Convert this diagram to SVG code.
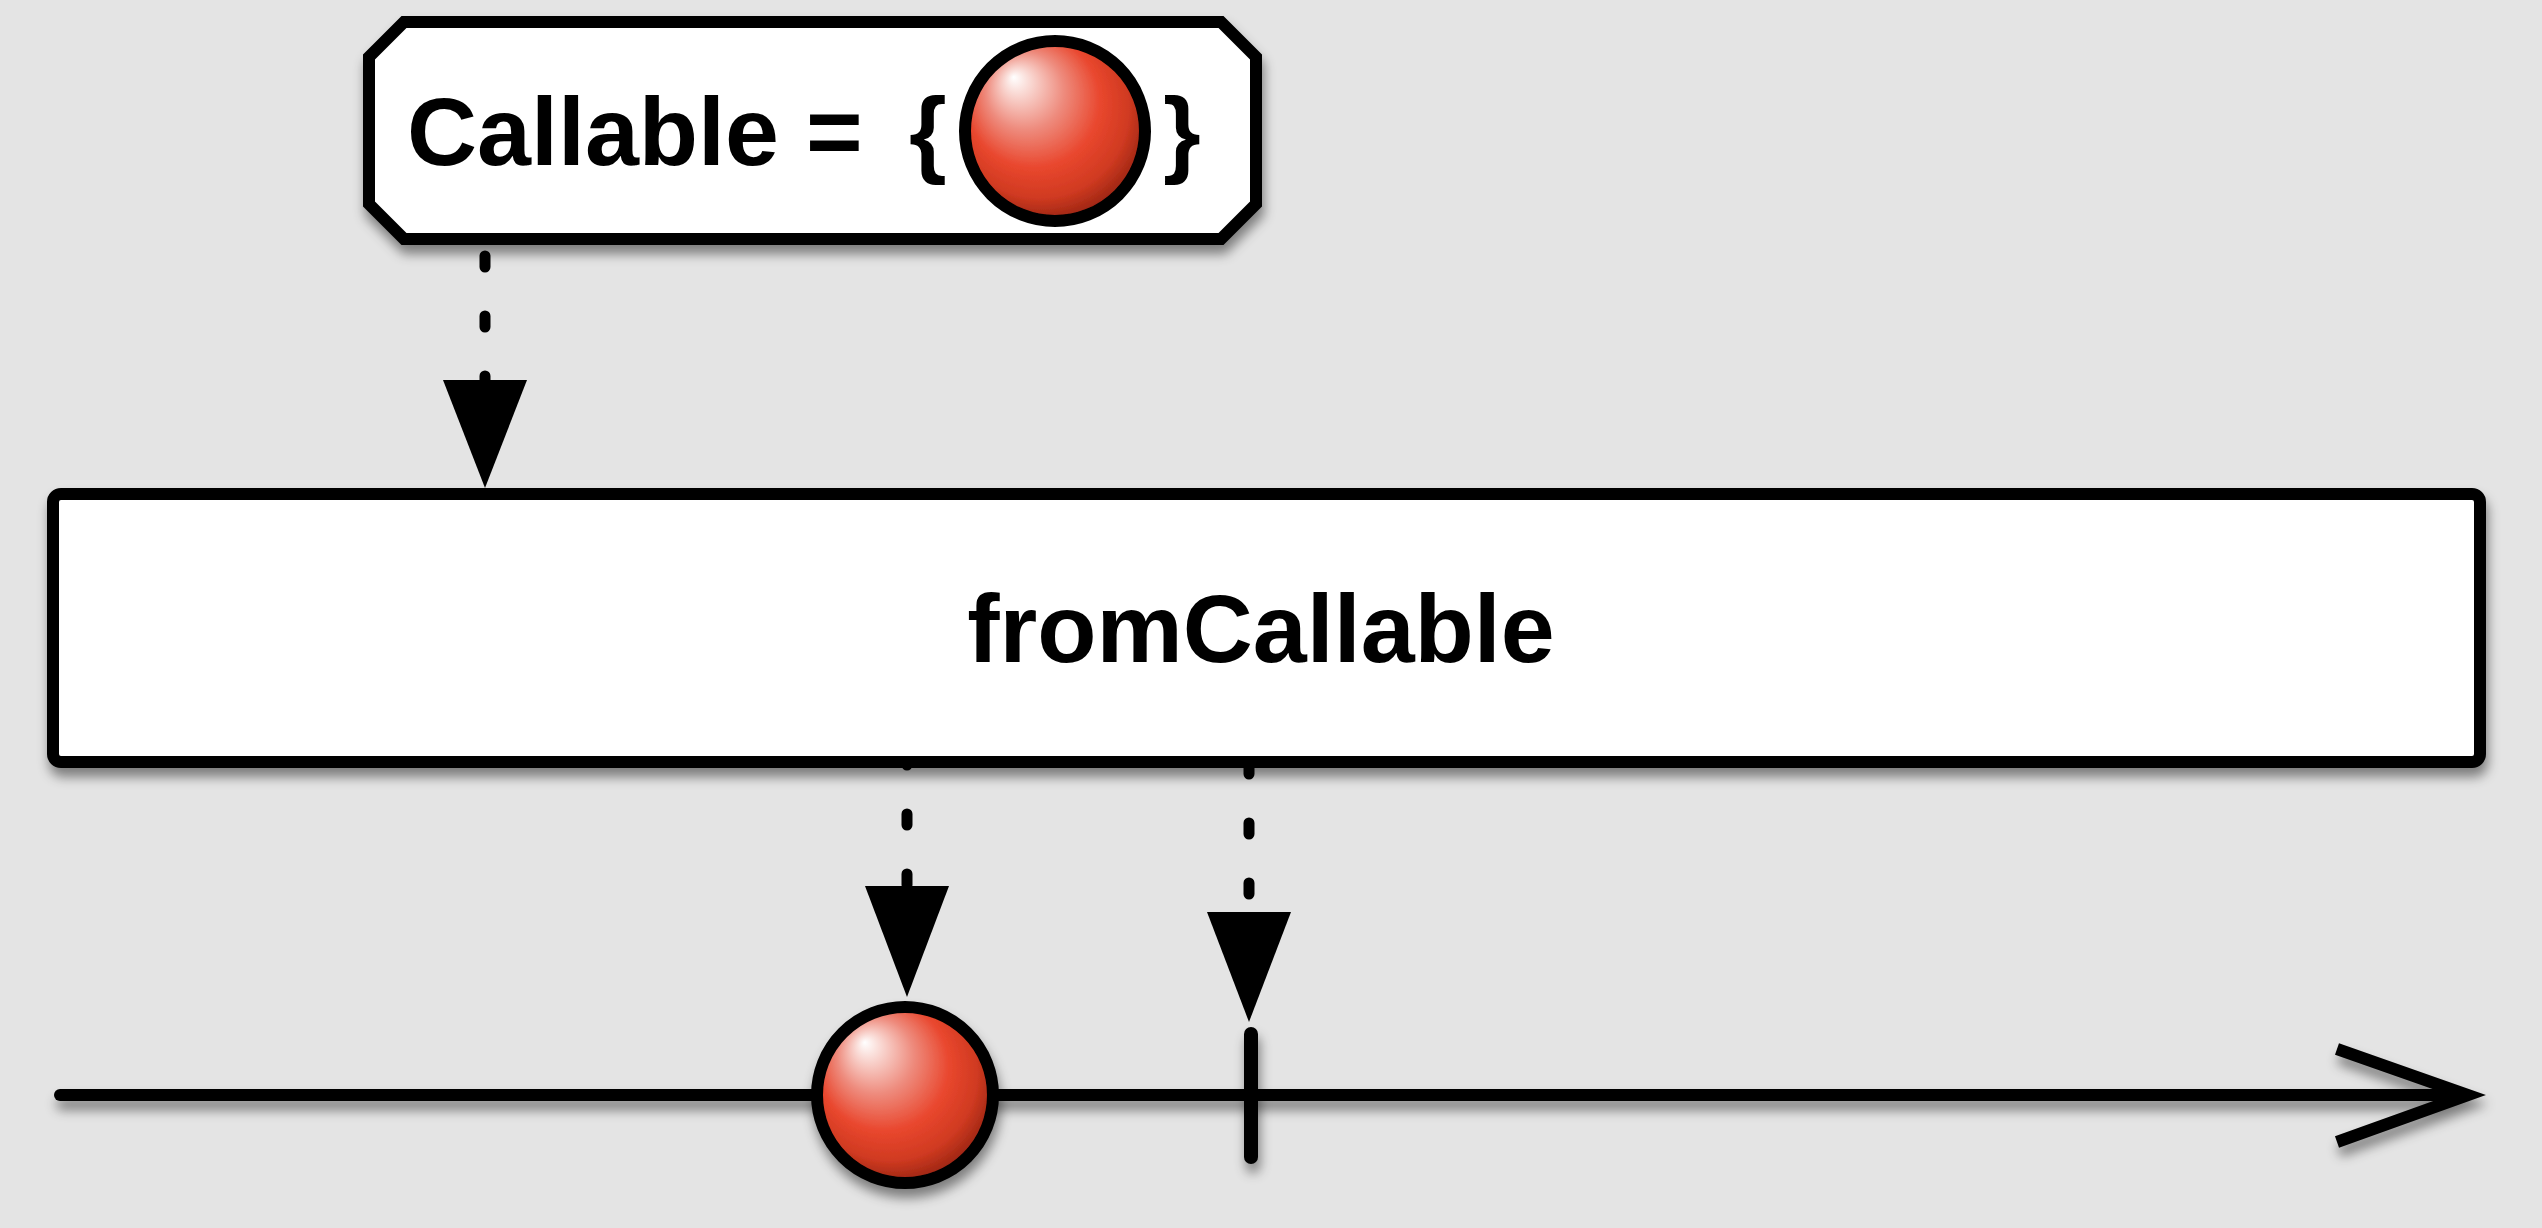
<svg xmlns="http://www.w3.org/2000/svg" width="2542" height="1228" viewBox="0 0 2542 1228">
  <defs>
    <filter id="shadow" filterUnits="userSpaceOnUse" x="0" y="0" width="2542" height="1228">
      <feDropShadow dx="2" dy="9" stdDeviation="6" flood-color="#000" flood-opacity="0.45"/>
    </filter>
    <radialGradient id="ballGrad" cx="0.45" cy="0.42" r="0.62" fx="0.27" fy="0.2">
      <stop offset="0" stop-color="#ffffff"/>
      <stop offset="0.08" stop-color="#fbe4e0"/>
      <stop offset="0.35" stop-color="#ee8b7d"/>
      <stop offset="0.6" stop-color="#e9472e"/>
      <stop offset="0.8" stop-color="#d03a21"/>
      <stop offset="1" stop-color="#8a1e0e"/>
    </radialGradient>
  </defs>
  <style>
    .bg { fill: #e4e4e4; }
    .box { fill: #ffffff; stroke: #000; stroke-width: 12; }
    .label { font-family: "Liberation Sans", Arial, Helvetica, sans-serif; font-weight: bold; font-size: 97px; fill: #000; }
    .ball { fill: url(#ballGrad); stroke: #000; stroke-width: 12; }
    .dash { fill: none; stroke: #000; stroke-width: 11; stroke-linecap: round; stroke-dasharray: 11 49; }
    .head { fill: #000; }
    .line { fill: none; stroke: #000; stroke-width: 12; stroke-linecap: round; }
  </style>
  <rect class="bg" x="0" y="0" width="2542" height="1228"/>

  <g id="connectors">
    <line class="dash" x1="485" y1="256" x2="485" y2="382"/>
    <polygon class="head" points="443,380 527,380 485,488"/>
    <line class="dash" x1="907" y1="754" x2="907" y2="888"/>
    <polygon class="head" points="865,886 949,886 907,997"/>
    <line class="dash" x1="1249" y1="763" x2="1249" y2="900"/>
    <polygon class="head" points="1207,912 1291,912 1249,1022"/>
  </g>

  <g id="node-callable" filter="url(#shadow)">
    <path class="box" d="M 404 22 L 1221 22 L 1256 57 L 1256 204 L 1221 239 L 404 239 L 369 204 L 369 57 Z"/>
    <text class="label" x="407" y="165">Callable =</text>
    <text class="label" x="909" y="165">{</text>
    <circle class="ball" cx="1055" cy="131" r="90"/>
    <text class="label" x="1163" y="165">}</text>
  </g>

  <g id="node-fromCallable" filter="url(#shadow)">
    <rect class="box" x="53" y="494" width="2427" height="268" rx="8" ry="8"/>
    <text class="label" x="1261" y="662" text-anchor="middle">fromCallable</text>
  </g>

  <g id="node-timeline" filter="url(#shadow)">
    <line class="line" x1="60" y1="1095" x2="2466" y2="1095"/>
    <polyline points="2337,1049 2468,1095 2337,1142" fill="none" stroke="#000" stroke-width="12" stroke-linejoin="miter"/>
  </g>

  <g id="node-complete" filter="url(#shadow)">
    <rect x="1244" y="1027" width="14" height="137" rx="7" ry="7" fill="#000"/>
  </g>

  <g id="node-emission" filter="url(#shadow)">
    <circle class="ball" cx="905" cy="1095" r="88"/>
  </g>
</svg>
